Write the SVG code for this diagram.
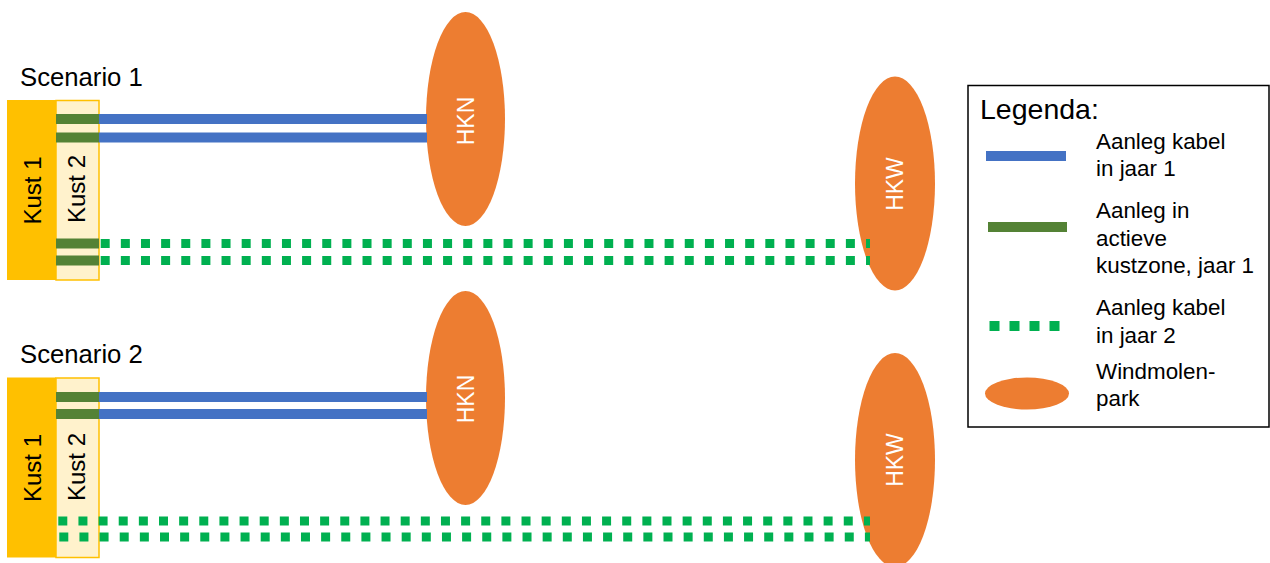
<svg xmlns="http://www.w3.org/2000/svg" width="1270" height="563" viewBox="0 0 1270 563">
<style>
.lbl{font-family:"Liberation Sans",Arial,sans-serif;fill:#000}
.scen{font-size:25.7px}
.kust{font-size:24px}
.park{font-family:"Liberation Sans",Arial,sans-serif;font-size:23px;fill:#fff}
.leg{font-size:22.4px}
.k1{fill:#FFC000}
.k2{fill:#FFF2CC;stroke:#FFC000;stroke-width:1.5}
.wind{fill:#ED7D31}
.blue{stroke:#4472C4;stroke-width:10;fill:none}
.dgreen{stroke:#548235;stroke-width:10;fill:none}
.dots{stroke:#00B050;stroke-width:9;stroke-dasharray:9 11.14;fill:none}
</style>
<rect width="1270" height="563" fill="#fff"/>

<g id="scenario1">
  <text class="lbl scen" x="20" y="86">Scenario 1</text>
  <g id="kust1-s1"><rect class="k1" x="7" y="100" width="49" height="180"/>
    <text class="lbl kust" transform="translate(41,190.5) rotate(-90)" text-anchor="middle">Kust 1</text></g>
  <g id="kust2-s1"><rect class="k2" x="56" y="100.5" width="43" height="179.5"/>
    <text class="lbl kust" transform="translate(85,189) rotate(-90)" text-anchor="middle">Kust 2</text></g>
  <g id="hkn-s1"><ellipse class="wind" cx="465.5" cy="119" rx="39.5" ry="107"/>
    <text class="park" transform="translate(474,121) rotate(-90)" text-anchor="middle">HKN</text></g>
  <g id="hkw-s1"><ellipse class="wind" cx="895" cy="183.5" rx="40" ry="107"/>
    <text class="park" transform="translate(903,184) rotate(-90)" text-anchor="middle">HKW</text></g>
</g>

<g id="scenario2">
  <text class="lbl scen" x="20" y="363">Scenario 2</text>
  <g id="kust1-s2"><rect class="k1" x="7" y="377.5" width="49" height="180"/>
    <text class="lbl kust" transform="translate(41,468) rotate(-90)" text-anchor="middle">Kust 1</text></g>
  <g id="kust2-s2"><rect class="k2" x="56" y="378" width="43" height="179.5"/>
    <text class="lbl kust" transform="translate(85,467) rotate(-90)" text-anchor="middle">Kust 2</text></g>
  <g id="hkn-s2"><ellipse class="wind" cx="465.5" cy="398" rx="39.5" ry="107"/>
    <text class="park" transform="translate(474,399) rotate(-90)" text-anchor="middle">HKN</text></g>
  <g id="hkw-s2"><ellipse class="wind" cx="895" cy="460" rx="40" ry="107"/>
    <text class="park" transform="translate(903,460) rotate(-90)" text-anchor="middle">HKW</text></g>
</g>

<g id="connectors">
  <line class="dgreen" x1="56" y1="119" x2="99" y2="119"/>
  <line class="blue" x1="99" y1="119" x2="427" y2="119"/>
  <line class="dgreen" x1="56" y1="137.5" x2="99" y2="137.5"/>
  <line class="blue" x1="99" y1="137.5" x2="427" y2="137.5"/>
  <line class="dgreen" x1="56" y1="243.5" x2="99" y2="243.5"/>
  <line class="dots" x1="100.7" y1="243.5" x2="870" y2="243.5"/>
  <line class="dgreen" x1="56" y1="260.5" x2="99" y2="260.5"/>
  <line class="dots" x1="100.7" y1="260.5" x2="870" y2="260.5"/>

  <line class="dgreen" x1="56" y1="397" x2="99" y2="397"/>
  <line class="blue" x1="99" y1="397" x2="427" y2="397"/>
  <line class="dgreen" x1="56" y1="414" x2="99" y2="414"/>
  <line class="blue" x1="99" y1="414" x2="427" y2="414"/>
  <line class="dots" x1="58.3" y1="521" x2="870" y2="521"/>
  <line class="dots" x1="59.3" y1="537" x2="870" y2="537"/>
</g>

<g id="legend">
  <rect x="968" y="85.5" width="301" height="341.5" fill="#fff" stroke="#000" stroke-width="1.5"/>
  <text class="lbl" x="980" y="119" font-size="28.5">Legenda:</text>
  <line class="blue" x1="986" y1="156" x2="1066" y2="156"/>
  <text class="lbl leg" x="1096" y="149">Aanleg kabel</text>
  <text class="lbl leg" x="1096" y="176">in jaar 1</text>
  <line class="dgreen" x1="988" y1="227" x2="1067" y2="227"/>
  <text class="lbl leg" x="1096" y="218">Aanleg in</text>
  <text class="lbl leg" x="1096" y="246">actieve</text>
  <text class="lbl leg" x="1096" y="273">kustzone, jaar 1</text>
  <line stroke="#00B050" stroke-width="10" stroke-dasharray="10 10" x1="989.5" y1="326" x2="1060" y2="326"/>
  <text class="lbl leg" x="1096" y="315">Aanleg kabel</text>
  <text class="lbl leg" x="1096" y="343">in jaar 2</text>
  <ellipse class="wind" cx="1027" cy="393.5" rx="42" ry="16"/>
  <text class="lbl leg" x="1096" y="379">Windmolen-</text>
  <text class="lbl leg" x="1096" y="406">park</text>
</g>
</svg>
